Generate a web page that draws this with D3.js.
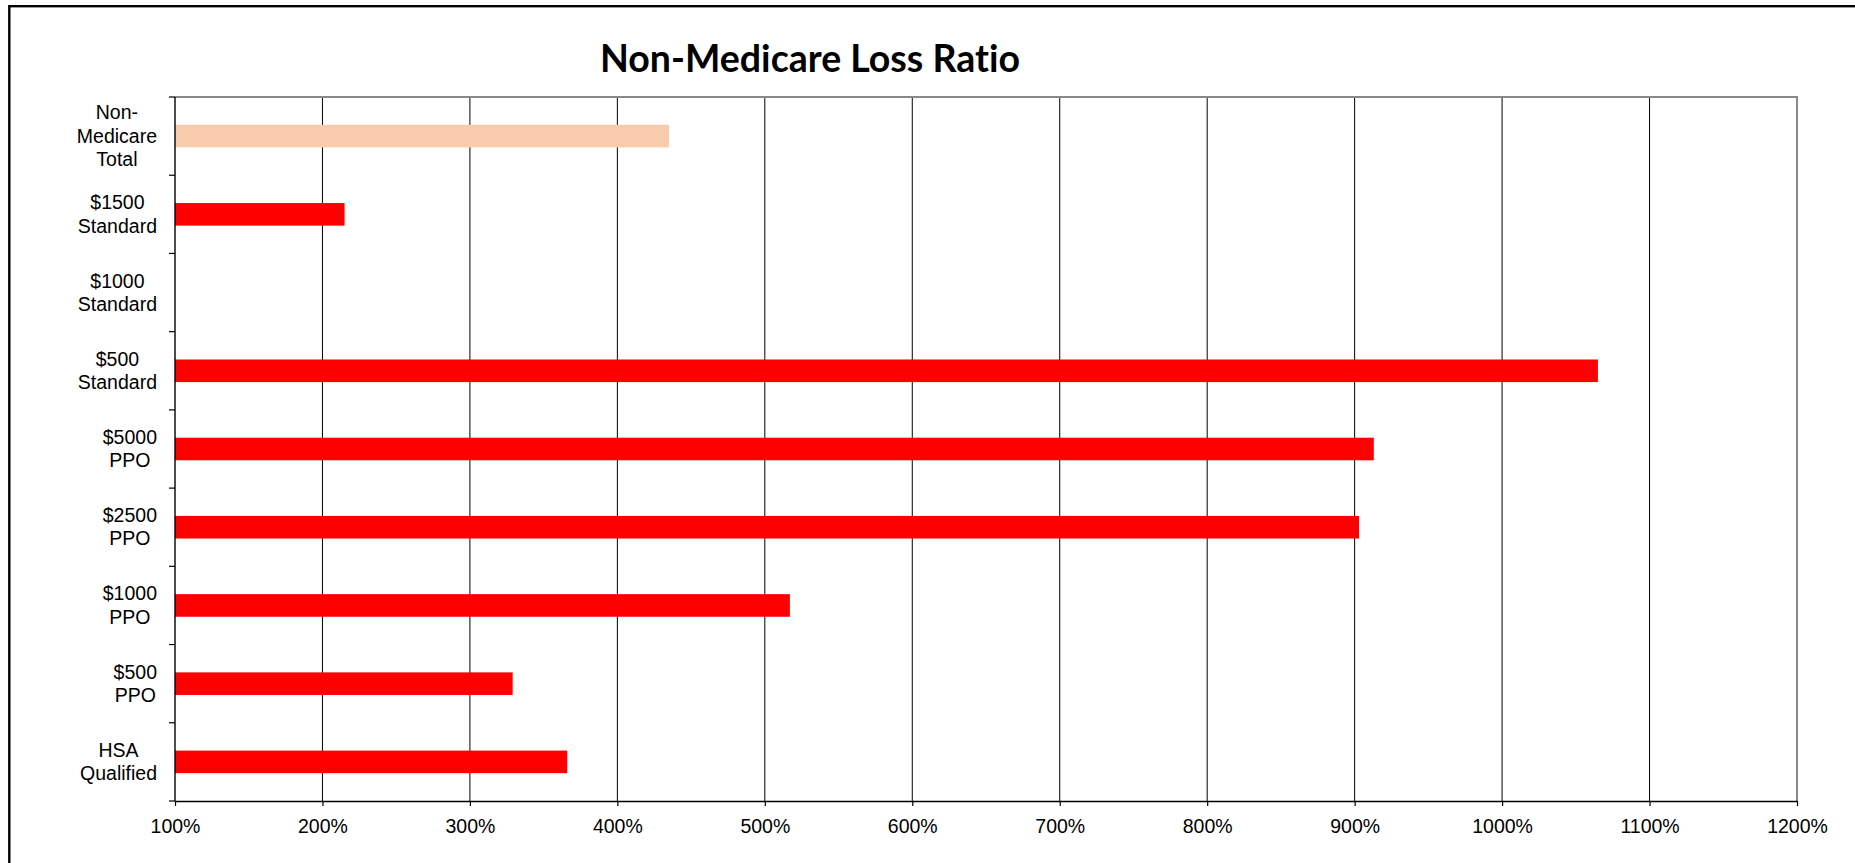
<!DOCTYPE html>
<html>
<head>
<meta charset="utf-8">
<script src="https://cdn.jsdelivr.net/npm/d3@7"></script>
<style>
  html, body { margin: 0; padding: 0; background: #fff; }
  svg { display: block; }
  text { font-variant-ligatures: none; font-feature-settings: "liga" 0, "clig" 0; }
</style>
</head>
<body>
<svg id="chart" width="1855" height="863"></svg>
<script>
// Plan categories, top to bottom; "\n" marks a line break in the axis label
const categories = [
  "Non-\nMedicare\nTotal",
  "$1500\nStandard",
  "$1000\nStandard",
  "$500\nStandard",
  "$5000\nPPO",
  "$2500\nPPO",
  "$1000\nPPO",
  "$500\nPPO",
  "HSA\nQualified"
];
// Loss ratio in percent (null = no data)
const lossRatio = [435, 215, null, 1065, 913, 903, 517, 329, 366];
// Which bar is the overall total
const isTotal = [true, false, false, false, false, false, false, false, false];
// Horizontal axis ticks (percent)
const xTicks = [100, 200, 300, 400, 500, 600, 700, 800, 900, 1000, 1100, 1200];
const titleText = "Non-Medicare Loss Ratio";

const W = 1855, H = 863;
const plot = { left: 175, right: 1797, top: 97, bottom: 801 };
const FONT = "'Liberation Sans', Arial, sans-serif";

const svg = d3.select("#chart");

// outer chart frame (left and top edges fall inside the canvas)
svg.append("rect")
  .attr("x", 9.3).attr("y", 6.2)
  .attr("width", W + 20).attr("height", H + 20)
  .attr("fill", "none").attr("stroke", "#000").attr("stroke-width", 2.4);

const x = d3.scaleLinear().domain([100, 1200]).range([plot.left, plot.right]);
const pad = 1 - 22.6 / ((plot.bottom - plot.top) / categories.length);
const y = d3.scaleBand()
  .domain(categories)
  .range([plot.top, plot.bottom])
  .paddingInner(pad)
  .paddingOuter(pad / 2);

// vertical gridlines
svg.append("g")
  .selectAll("line")
  .data(xTicks.filter(t => t > 100 && t < 1200))
  .join("line")
  .attr("x1", d => x(d)).attr("x2", d => x(d))
  .attr("y1", plot.top).attr("y2", plot.bottom)
  .attr("stroke", "#000").attr("stroke-width", 1);

// plot-area border (top and right)
svg.append("path")
  .attr("d", `M${plot.left},${plot.top}H${plot.right}V${plot.bottom}`)
  .attr("fill", "none").attr("stroke", "#888").attr("stroke-width", 2);

// bars start from the 100% baseline
svg.append("g")
  .selectAll("rect")
  .data(categories.map((c, i) => ({ c, v: lossRatio[i], total: isTotal[i] }))
    .filter(d => d.v != null))
  .join("rect")
  .attr("x", x(100))
  .attr("y", d => y(d.c))
  .attr("width", d => x(d.v) - x(100))
  .attr("height", y.bandwidth())
  .attr("fill", d => d.total ? "#F8CBAD" : "#FF0000");

// bottom axis
const xAxis = d3.axisBottom(x)
  .tickValues(xTicks)
  .tickFormat(d => d + "%")
  .tickSize(5)
  .tickSizeOuter(0);
const gx = svg.append("g")
  .attr("transform", `translate(0,${plot.bottom})`)
  .call(xAxis);
gx.select(".domain").attr("stroke", "#000").attr("stroke-width", 1.4);
gx.selectAll(".tick line").attr("stroke", "#000").attr("stroke-width", 1.2);
gx.selectAll(".tick text")
  .attr("y", 16).attr("dy", "0.8em")
  .attr("font-family", FONT).attr("font-size", "19.5px").attr("fill", "#000");

// left axis line with ticks at category boundaries
const gy = svg.append("g");
gy.append("line")
  .attr("x1", plot.left).attr("x2", plot.left)
  .attr("y1", plot.top).attr("y2", plot.bottom)
  .attr("stroke", "#000").attr("stroke-width", 1.4);
gy.selectAll("line.tick")
  .data(d3.range(categories.length + 1))
  .join("line")
  .attr("class", "tick")
  .attr("x1", plot.left - 6).attr("x2", plot.left)
  .attr("y1", i => y.range()[0] + i * y.step())
  .attr("y2", i => y.range()[0] + i * y.step())
  .attr("stroke", "#000").attr("stroke-width", 1.2);

// category labels: each block right-aligned, lines centred within the block
const labelRight = 157;
const lineH = 23.3;
categories.forEach(cat => {
  const lines = cat.split("\n");
  const cy = y(cat) + y.bandwidth() / 2;
  const g = svg.append("g");
  const texts = lines.map((ln, i) => g.append("text")
    .attr("font-family", FONT).attr("font-size", "19.5px").attr("fill", "#000")
    .attr("text-anchor", "middle")
    .attr("y", cy + (i - (lines.length - 1) / 2) * lineH + 6.6)
    .text(ln));
  const maxW = d3.max(texts, t => t.node().getComputedTextLength());
  texts.forEach(t => t.attr("x", labelRight - maxW / 2));
});

// chart title
const title = svg.append("text")
  .attr("x", 810).attr("y", 71.5)
  .attr("text-anchor", "middle")
  .attr("font-family", "Lato, 'Open Sans', sans-serif")
  .attr("font-weight", 700)
  .attr("font-size", "32px")
  .attr("fill", "#000")
  .text(titleText);
const tw = title.node().getComputedTextLength();
title.attr("font-size", (32 * 420 / tw).toFixed(2) + "px");
</script>
</body>
</html>
